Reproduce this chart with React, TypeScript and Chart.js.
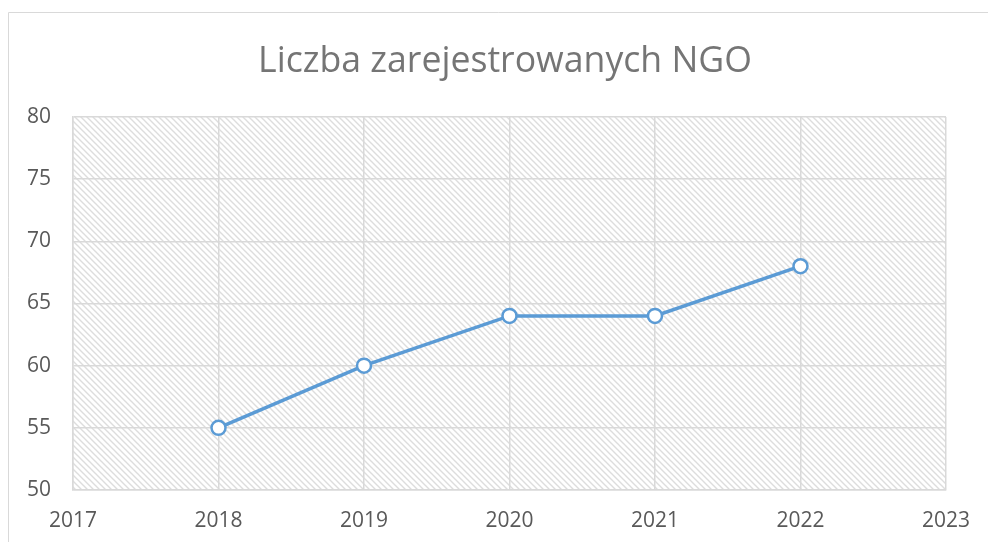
import React, { useEffect, useRef } from "react";
import { Chart, registerables } from "chart.js";

Chart.register(...registerables);

const TITLE = "Liczba zarejestrowanych NGO";
const years = [2018, 2019, 2020, 2021, 2022];
const counts = [55, 60, 64, 64, 68];
const X_MIN = 2017;
const X_MAX = 2023;
const Y_MIN = 50;
const Y_MAX = 80;
const Y_STEP = 5;

const FONT = "'Open Sans', 'Noto Sans', sans-serif";

function makeHatch(): CanvasPattern | string {
  const c = document.createElement("canvas");
  const s = 6;
  c.width = s;
  c.height = s;
  const g = c.getContext("2d");
  if (!g) return "#eee";
  g.fillStyle = "#ffffff";
  g.fillRect(0, 0, s, s);
  g.strokeStyle = "#dddddd";
  g.lineWidth = 1.4;
  g.beginPath();
  g.moveTo(-1, -1);
  g.lineTo(s + 1, s + 1);
  g.moveTo(-1 - s, -1);
  g.lineTo(1, s + 1);
  g.moveTo(s - 1, -1);
  g.lineTo(2 * s + 1, s + 1);
  g.stroke();
  const p = g.createPattern(c, "repeat");
  return p || "#eee";
}

const decorPlugin = {
  id: "decor",
  beforeDraw(chart: any) {
    const { ctx, chartArea } = chart;
    ctx.save();
    ctx.strokeStyle = "#d9d9d9";
    ctx.lineWidth = 1;
    ctx.beginPath();
    ctx.moveTo(8.5, 542);
    ctx.lineTo(8.5, 12.5);
    ctx.lineTo(988, 12.5);
    ctx.stroke();
    ctx.fillStyle = makeHatch();
    ctx.fillRect(chartArea.left, chartArea.top, chartArea.right - chartArea.left, chartArea.bottom - chartArea.top);
    ctx.fillStyle = "#757575";
    let size = 36;
    ctx.font = `${size}px ${FONT}`;
    const w = ctx.measureText(TITLE).width;
    size = Math.min(38, size * (494 / w));
    ctx.font = `${size}px ${FONT}`;
    ctx.textAlign = "center";
    ctx.textBaseline = "alphabetic";
    ctx.fillText(TITLE, 505, 72);
    ctx.restore();
  },
};

export default function App() {
  const ref = useRef<HTMLCanvasElement | null>(null);
  useEffect(() => {
    if (!ref.current) return;
    const chart = new Chart(ref.current, {
      type: "line",
      data: {
        datasets: [
          {
            data: years.map((y, i) => ({ x: y, y: counts[i] })),
            borderColor: "#5b9bd5",
            borderWidth: 3.5,
            pointRadius: 7,
            pointBorderWidth: 2.5,
            pointBackgroundColor: "#ffffff",
            pointBorderColor: "#5b9bd5",
            tension: 0,
          },
        ],
      },
      options: {
        responsive: false,
        animation: false,
        layout: { padding: { left: 0, top: 117, right: 38, bottom: 0 } },
        plugins: { legend: { display: false }, tooltip: { enabled: false }, title: { display: false } },
        scales: {
          x: {
            type: "linear",
            min: X_MIN,
            max: X_MAX,
            ticks: { stepSize: 1, color: "#595959", font: { family: FONT, size: 21 }, padding: 18, callback: (v: any) => String(v) },
            grid: { color: "#d9d9d9", lineWidth: 1.5, drawTicks: false },
            border: { color: "#d9d9d9", width: 1.5 },
            afterFit: (s: any) => { s.height = 52; },
          },
          y: {
            min: Y_MIN,
            max: Y_MAX,
            ticks: { stepSize: Y_STEP, color: "#595959", font: { family: FONT, size: 21 }, padding: 22 },
            grid: { color: "#d9d9d9", lineWidth: 1.5, drawTicks: false },
            border: { color: "#d9d9d9", width: 1.5 },
            afterFit: (s: any) => { s.width = 73; },
          },
        },
      },
      plugins: [decorPlugin],
    });
    return () => chart.destroy();
  }, []);
  return (
    <canvas
      ref={ref}
      width={988}
      height={542}
      style={{ position: "fixed", left: 0, top: 0, width: 988, height: 542, background: "#fff" }}
    />
  );
}
